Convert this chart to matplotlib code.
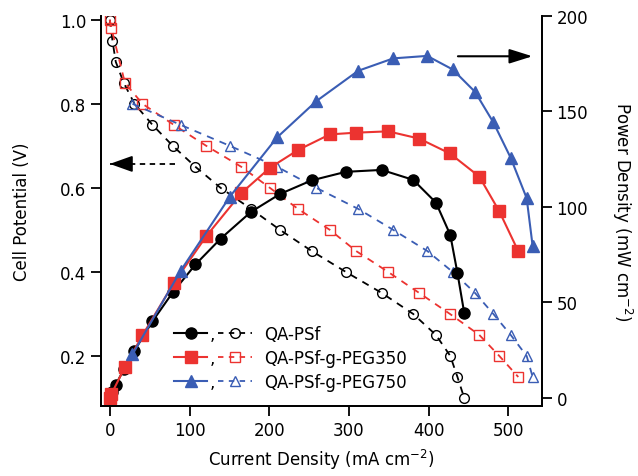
import matplotlib
import matplotlib.pyplot as plt
from matplotlib.legend_handler import HandlerBase
from matplotlib.lines import Line2D
from matplotlib.text import Text

# Modalità senza monitor
matplotlib.use('Agg')

# QA-PSf
psf_i = [0, 3.4, 7.5, 17.5, 31, 53.5, 79, 107.5, 139, 177, 213.5, 253, 296, 341, 380.5, 409, 427, 436, 444.5]
psf_v = [1.0, 0.95, 0.90, 0.85, 0.80, 0.75, 0.70, 0.65, 0.60, 0.55, 0.50, 0.45, 0.40, 0.35, 0.30, 0.25, 0.20, 0.15, 0.10]
psf_p = [0, 3.2, 6.8, 14.9, 24.8, 40.1, 55.3, 69.9, 83.4, 97.4, 106.8, 113.9, 118.4, 119.4, 114.2, 102.3, 85.4, 65.4, 44.5]

# QA-PSf-g-PEG350
peg350_i = [0, 2, 19, 41, 80.3, 121, 165, 200.8, 236, 276, 308.7, 349, 388, 426.6, 463.4, 488.5, 512.3]
peg350_v = [1.0, 0.98, 0.85, 0.80, 0.75, 0.70, 0.65, 0.60, 0.55, 0.50, 0.45, 0.40, 0.35, 0.30, 0.25, 0.20, 0.15]
peg350_p = [0, 2.0, 16.2, 32.8, 60.2, 84.7, 107.3, 120.5, 129.8, 138.0, 138.9, 139.6, 135.8, 128.0, 115.9, 97.7, 76.8]

# QA-PSf-g-PEG750
peg750_i = [28.5, 88.7, 150.6, 210, 259, 311.5, 355.5, 398, 430, 458, 481, 502.8, 522.8, 530.3]
peg750_v = [0.80, 0.75, 0.70, 0.65, 0.60, 0.55, 0.50, 0.45, 0.40, 0.35, 0.30, 0.25, 0.20, 0.15]
peg750_p = [22.8, 66.5, 105.4, 136.5, 155.4, 171.3, 177.8, 179.1, 172.0, 160.3, 144.3, 125.7, 104.6, 79.5]

labels = ['QA-PSf', 'QA-PSf-g-PEG350', 'QA-PSf-g-PEG750']
colori = ['black', '#EC3330', '#3A5DB4']
marker = ['o', 's', '^']

FS = 12


class HandlerCoppia(HandlerBase):
    # linea piena + "," + linea tratteggiata
    def create_artists(self, legend, orig_handle, xdescent, ydescent,
                       width, height, fontsize, trans):
        piena, vuota = orig_handle
        y = height / 2 - ydescent
        x0 = -xdescent
        a1 = x0 + 0.43 * width
        b0 = x0 + 0.56 * width
        b1 = x0 + width
        art = []
        l1 = Line2D([x0, a1], [y, y], color=piena.get_color(), lw=piena.get_linewidth())
        m1 = Line2D([(x0 + a1) / 2], [y], marker=piena.get_marker(), color=piena.get_color(),
                    markersize=piena.get_markersize(), linestyle='none')
        l2 = Line2D([b0, b1], [y, y], color=vuota.get_color(), lw=vuota.get_linewidth(),
                    linestyle=(0, (3, 3)))
        m2 = Line2D([(b0 + b1) / 2], [y], marker=vuota.get_marker(), color=vuota.get_color(),
                    markerfacecolor='none', markersize=vuota.get_markersize(), linestyle='none')
        t = Text((a1 + b0) / 2, y - 4, ',', ha='center', va='baseline', fontsize=fontsize)
        for a in (l1, m1, l2, m2, t):
            a.set_transform(trans)
            art.append(a)
        return art


fig = plt.figure(figsize=(6.38, 4.77), dpi=100)
ax = fig.add_axes([0.1583, 0.1468, 0.6912, 0.8176])
ax2 = ax.twinx()

dati = [(psf_i, psf_v, psf_p), (peg350_i, peg350_v, peg350_p), (peg750_i, peg750_v, peg750_p)]
handles = []
for (i, v, p), c, m in zip(dati, colori, marker):
    hv, = ax.plot(i, v, color=c, linestyle=(0, (4, 3.5)), lw=1.3, marker=m,
                  markerfacecolor='none', markersize=7, markeredgewidth=1.0)
    hp, = ax2.plot(i, p, color=c, lw=1.5, marker=m, markersize=8)
    handles.append((hp, hv))

ax.set_xlim(-11, 542)
ax.set_ylim(0.081, 1.009)
ax2.set_ylim(-4.2, 200)
ax.set_xticks([0, 100, 200, 300, 400, 500])
ax.set_yticks([0.2, 0.4, 0.6, 0.8, 1.0])
ax2.set_yticks([0, 50, 100, 150, 200])

for a in (ax, ax2):
    a.spines['top'].set_visible(False)
    for s in a.spines.values():
        s.set_linewidth(1.3)
    a.tick_params(direction='out', length=7, width=1.3, labelsize=FS)

ax.set_xlabel('Current Density (mA cm$^{-2}$)', fontsize=FS, labelpad=6)
ax.set_ylabel('Cell Potential (V)', fontsize=FS, labelpad=21)
ax2.set_ylabel('Power Density (mW cm$^{-2}$)', fontsize=FS, rotation=270, va='bottom', labelpad=16)

# frecce
ax.plot([0, 84], [0.657, 0.657], color='black', lw=1.3, linestyle=(0, (3, 2.5)))
ax.annotate('', xy=(0, 0.657), xytext=(14, 0.657),
            arrowprops=dict(arrowstyle='-|>,head_length=0.7,head_width=0.25', color='black',
                            lw=1.3, mutation_scale=20, shrinkA=0, shrinkB=0))
ax2.annotate('', xy=(530, 178.9), xytext=(436.6, 178.9),
             arrowprops=dict(arrowstyle='-|>,head_length=0.7,head_width=0.22', color='black',
                             lw=1.5, mutation_scale=20, shrinkA=0, shrinkB=0))

ax2.legend(handles, labels, handler_map={tuple: HandlerCoppia()}, frameon=False,
           fontsize=FS, handlelength=4.7, handletextpad=0.7, labelspacing=0.35,
           loc='lower left', bbox_to_anchor=(0.131, 0.0))

plt.savefig('out.png')
